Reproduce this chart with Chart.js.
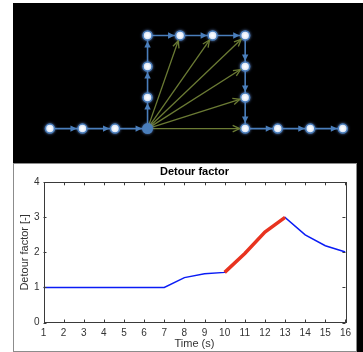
<!DOCTYPE html>
<html>
<head>
<meta charset="utf-8">
<script src="https://cdn.jsdelivr.net/npm/chart.js@4.4.1/dist/chart.umd.min.js"></script>
<style>
  html, body { margin: 0; padding: 0; background: #fff; }
  body { width: 363px; height: 352px; position: relative; overflow: hidden; }
  #dark { position: absolute; left: 13px; top: 3px; width: 350px; height: 349px; background: #000; }
  #panel { position: absolute; left: 13px; top: 163px; width: 344px; height: 189px; box-sizing: border-box;
           background: #fff; border: 1px solid #8c8c8c; }
  #netCanvas { position: absolute; left: 13px; top: 3px; }
  #detourCanvas { position: absolute; left: 14px; top: 164px; }
</style>
</head>
<body>
<div id="dark"></div>
<div id="panel"></div>
<canvas id="netCanvas" width="350" height="160"></canvas>
<canvas id="detourCanvas" width="342" height="187"></canvas>
<script>
// network diagram: nodes on a grid, path goes through them in order
const nodeX = [0, 1, 2, 3, 3, 3, 3, 4, 5, 6, 6, 6, 6, 7, 8, 9];
const nodeY = [0, 0, 0, 0, 1, 2, 3, 3, 3, 3, 2, 1, 0, 0, 0, 0];
const sourceNode = 3;
const detourTargets = [7, 8, 9, 10, 11, 12];

// detour factor over time
const timeLabels = [1, 2, 3, 4, 5, 6, 7, 8, 9, 10, 11, 12, 13, 14, 15, 16];
const detourValues = [1, 1, 1, 1, 1, 1, 1, 1.28, 1.39, 1.43, 1.97, 2.58, 3.0, 2.5, 2.19, 2.01];
const highlightValues = [null, null, null, null, null, null, null, null, null, 1.43, 1.97, 2.58, 3.0, null, null, null];
const yTicks = [0, 1, 2, 3, 4];

const BLUE = '#4a7ebb';
const OLIVE = '#6b7b34';

function pt(i) { return { x: nodeX[i], y: nodeY[i] }; }

// arrowheads drawn at the end of each edge, positions from the chart scales
const arrowPlugin = {
    id: 'arrows',
    afterDatasetsDraw(chart) {
        const ctx = chart.ctx;
        const sx = chart.scales.x, sy = chart.scales.y;
        const head = (i, j, color, open) => {
            const x0 = sx.getPixelForValue(nodeX[i]), y0 = sy.getPixelForValue(nodeY[i]);
            const x1 = sx.getPixelForValue(nodeX[j]), y1 = sy.getPixelForValue(nodeY[j]);
            const len = Math.hypot(x1 - x0, y1 - y0);
            const ux = (x1 - x0) / len, uy = (y1 - y0) / len;
            const tx = x1 - ux * 5.5, ty = y1 - uy * 5.5;
            const l = open ? 7 : 6.5, w = open ? 3.2 : 3.2;
            const bx = tx - ux * l, by = ty - uy * l;
            ctx.save();
            ctx.strokeStyle = color;
            ctx.fillStyle = color;
            ctx.lineWidth = 1.3;
            ctx.beginPath();
            ctx.moveTo(bx - uy * w, by + ux * w);
            ctx.lineTo(tx, ty);
            ctx.lineTo(bx + uy * w, by - ux * w);
            if (open) {
                ctx.stroke();
            } else {
                ctx.closePath();
                ctx.fill();
            }
            ctx.restore();
        };
        for (let i = 0; i < nodeX.length - 1; i++) head(i, i + 1, BLUE, false);
        detourTargets.forEach(t => head(sourceNode, t, OLIVE, true));
    }
};

const glowPlugin = {
    id: 'glow',
    beforeDatasetDraw(chart, args) {
        if (chart.data.datasets[args.index].isNodes) {
            chart.ctx.save();
            chart.ctx.shadowColor = 'rgba(110,150,220,0.7)';
            chart.ctx.shadowBlur = 3;
        }
    },
    afterDatasetDraw(chart, args) {
        if (chart.data.datasets[args.index].isNodes) chart.ctx.restore();
    }
};

const detourSets = detourTargets.map(t => ({
    data: [pt(sourceNode), pt(t)],
    showLine: true,
    borderColor: OLIVE,
    borderWidth: 1.3,
    pointRadius: 0,
    order: 3
}));

new Chart(document.getElementById('netCanvas'), {
    type: 'scatter',
    data: {
        datasets: [
            ...detourSets,
            {
                data: nodeX.map((x, i) => pt(i)),
                showLine: true,
                borderColor: BLUE,
                borderWidth: 1.6,
                pointRadius: 0,
                order: 2
            },
            {
                isNodes: true,
                data: nodeX.map((x, i) => pt(i)),
                pointRadius: nodeX.map((x, i) => i === sourceNode ? 5.5 : 4.5),
                pointBackgroundColor: nodeX.map((x, i) => i === sourceNode ? BLUE : '#ffffff'),
                pointBorderColor: BLUE,
                pointBorderWidth: nodeX.map((x, i) => i === sourceNode ? 0 : 1.5),
                order: 1
            }
        ]
    },
    options: {
        responsive: false,
        animation: false,
        layout: { padding: 0 },
        plugins: { legend: { display: false }, tooltip: { enabled: false } },
        scales: {
            x: { type: 'linear', display: false, min: -0.95, max: 9.436 },
            y: { type: 'linear', display: false, min: -0.916, max: 3.856 }
        }
    },
    plugins: [arrowPlugin, glowPlugin]
});

// matlab-like frame with inward ticks and a title centred on the axes
const framePlugin = {
    id: 'frame',
    afterDraw(chart) {
        const ctx = chart.ctx;
        const a = chart.chartArea;
        const sx = chart.scales.x, sy = chart.scales.y;
        ctx.save();
        ctx.strokeStyle = '#3a3a3a';
        ctx.lineWidth = 1;
        ctx.strokeRect(Math.round(a.left) + 0.5, Math.round(a.top) + 0.5,
                       Math.round(a.right - a.left), Math.round(a.bottom - a.top));
        ctx.beginPath();
        timeLabels.forEach(t => {
            const x = Math.round(sx.getPixelForValue(t)) + 0.5;
            ctx.moveTo(x, a.bottom); ctx.lineTo(x, a.bottom - 3);
            ctx.moveTo(x, a.top); ctx.lineTo(x, a.top + 3);
        });
        yTicks.forEach(v => {
            const y = Math.round(sy.getPixelForValue(v)) + 0.5;
            ctx.moveTo(a.left, y); ctx.lineTo(a.left + 3, y);
            ctx.moveTo(a.right, y); ctx.lineTo(a.right - 3, y);
        });
        ctx.stroke();
        ctx.fillStyle = '#000';
        ctx.font = 'bold 11px "Liberation Sans", Arial, sans-serif';
        ctx.textAlign = 'center';
        ctx.textBaseline = 'middle';
        ctx.fillText('Detour factor', (a.left + a.right) / 2, 7.5);
        ctx.restore();
    }
};

new Chart(document.getElementById('detourCanvas'), {
    type: 'line',
    data: {
        datasets: [
            {
                data: highlightValues.map((v, i) => ({ x: timeLabels[i], y: v })),
                borderColor: '#e8331f',
                borderWidth: 3.5,
                pointRadius: 0,
                spanGaps: false,
                order: 1
            },
            {
                data: detourValues.map((v, i) => ({ x: timeLabels[i], y: v })),
                borderColor: '#0a1cf5',
                borderWidth: 1.5,
                pointRadius: 0,
                order: 2
            }
        ]
    },
    options: {
        responsive: false,
        animation: false,
        layout: { padding: { top: 18.3, right: 7, left: 0, bottom: 0 } },
        plugins: { legend: { display: false }, tooltip: { enabled: false } },
        scales: {
            x: {
                type: 'linear',
                min: 1, max: 16,
                afterFit(s) { s.height = 28.5; },
                afterBuildTicks(s) { s.ticks = timeLabels.map(v => ({ value: v })); },
                grid: { display: false, drawTicks: false },
                border: { display: false },
                ticks: { color: '#333', padding: 5, font: { family: '"Liberation Sans", Arial, sans-serif', size: 10 },
                         maxRotation: 0, autoSkip: false },
                title: { display: true, text: 'Time (s)', color: '#333', padding: { top: 0, bottom: 0 },
                         font: { family: '"Liberation Sans", Arial, sans-serif', size: 11 } }
            },
            y: {
                min: 0, max: 4,
                afterFit(s) { s.width = 29.5; },
                afterBuildTicks(s) { s.ticks = yTicks.map(v => ({ value: v })); },
                grid: { display: false, drawTicks: false },
                border: { display: false },
                ticks: { color: '#333', padding: 4, font: { family: '"Liberation Sans", Arial, sans-serif', size: 10 } },
                title: { display: true, text: 'Detour factor [-]', color: '#333', padding: { top: 4, bottom: 0 },
                         font: { family: '"Liberation Sans", Arial, sans-serif', size: 11 } }
            }
        }
    },
    plugins: [framePlugin]
});
</script>
</body>
</html>
